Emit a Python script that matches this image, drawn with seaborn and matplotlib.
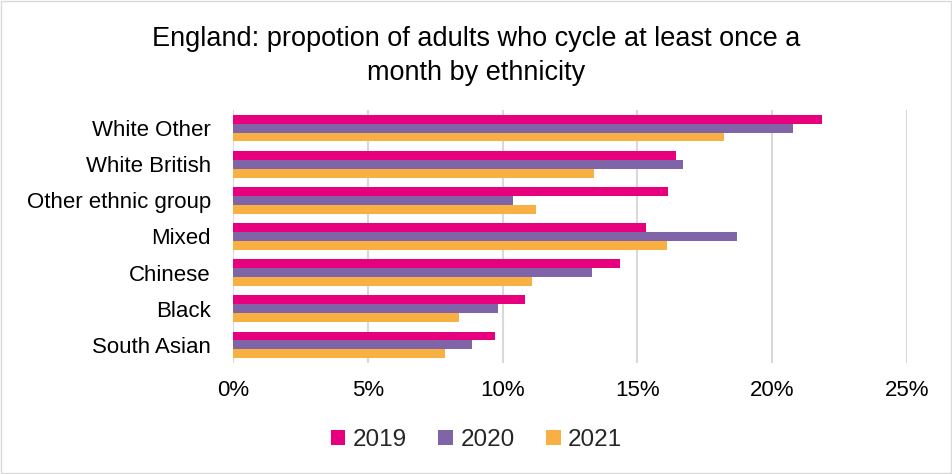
import pandas as pd
import matplotlib.pyplot as plt
import matplotlib.ticker as mticker
import seaborn as sns

groups = ["White Other", "White British", "Other ethnic group", "Mixed",
          "Chinese", "Black", "South Asian"]
years = ["2019", "2020", "2021"]
share_2019 = [21.85, 16.45, 16.14, 15.33, 14.36, 10.82, 9.73]
share_2020 = [20.76, 16.70, 10.40, 18.70, 13.30, 9.82, 8.85]
share_2021 = [18.20, 13.39, 11.24, 16.10, 11.09, 8.40, 7.85]
colors = ["#E6007E", "#8064A8", "#F9B043"]

df = pd.DataFrame({
    "Group": groups * 3,
    "Year": [y for y in years for _ in groups],
    "Share": share_2019 + share_2020 + share_2021,
})

sns.set_theme(style="white")
plt.rcParams["font.family"] = ["Liberation Sans", "DejaVu Sans"]

fig = plt.figure(figsize=(9.53, 4.74), dpi=100)
ax = fig.add_axes([233 / 953, 1 - 363 / 474, (907 - 233) / 953, (363 - 110) / 474])

sns.barplot(data=df, y="Group", x="Share", hue="Year", order=groups,
            hue_order=years, palette=colors, orient="h", width=0.74,
            saturation=1, linewidth=0, ax=ax, legend=True)

ax.set_xlim(0, 25)
ax.xaxis.set_major_locator(mticker.MultipleLocator(5))
ax.xaxis.set_major_formatter(mticker.FuncFormatter(lambda v, p: f"{v:.0f}%"))
ax.grid(axis="x", color="#D9D9D9", linewidth=1.5)
ax.set_axisbelow(True)
for s in ax.spines.values():
    s.set_visible(False)
ax.set_xlabel("")
ax.set_ylabel("")
ax.tick_params(axis="x", labelsize=16, pad=12, length=0, colors="#000000")
ax.tick_params(axis="y", labelsize=16, pad=16, length=0, colors="#000000")

handles, labels = ax.get_legend_handles_labels()
ax.get_legend().remove()
fig.legend(handles, labels, loc="center", bbox_to_anchor=(0.5, 1 - 440 / 474),
           ncol=3, frameon=False, fontsize=17.5, handlelength=0.6, handleheight=0.6,
           handletextpad=0.3, columnspacing=1.3)

fig.text(0.5, 1 - 56 / 474,
         "England: propotion of adults who cycle at least once a\nmonth by ethnicity",
         ha="center", va="center", fontsize=19.5, linespacing=1.38, color="#000000")

fig.patches.append(plt.Rectangle((0.001, 0.002), 0.997, 0.996, transform=fig.transFigure,
                                 fill=False, edgecolor="#D9D9D9", linewidth=1))

fig.savefig("out.png", dpi=100)
